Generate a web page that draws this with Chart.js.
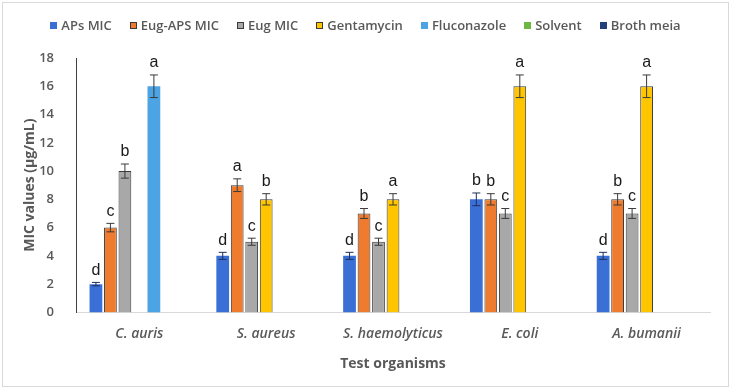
<!DOCTYPE html>
<html>
<head>
<meta charset="utf-8">
<script src="https://cdn.jsdelivr.net/npm/chart.js@4.4.1/dist/chart.umd.min.js"></script>
<style>
  body { margin: 0; background: #fff; }
  #wrap { position: relative; width: 731px; height: 389px; }
  #frame { position: absolute; left: 2px; top: 2px; right: 2px; bottom: 2px; border: 1px solid #d9d9d9; pointer-events: none; }
  #legend { position: absolute; left: 0; right: 0; top: 16px; display: flex; justify-content: center; gap: 18px; font: 600 13px 'Open Sans', sans-serif; color: #595959; }
  #legend span.item { display: flex; align-items: center; gap: 4px; }
  #legend span.box { width: 7px; height: 7px; box-sizing: border-box; display: inline-block; }
</style>
</head>
<body>
<div id="wrap">
  <canvas id="micChart"></canvas>
  <div id="legend"></div>
  <div id="frame"></div>
</div>
<script>
const organisms = ['C. auris', 'S. aureus', 'S. haemolyticus', 'E. coli', 'A. bumanii'];

const seriesNames = ['APs MIC', 'Eug-APS MIC', 'Eug MIC', 'Gentamycin', 'Fluconazole', 'Solvent', 'Broth meia'];
const seriesColors = ['#3a6fd6', '#ee7b2e', '#a8a8a8', '#ffc600', '#4ca4e4', '#6db842', '#23407a'];
const seriesBorders = [null, '#3a3a3a', '#3a3a3a', '#3a3a3a', null, null, null];

// MIC values (µg/mL), one array per series
const apsMic = [2, 4, 4, 8, 4];
const eugApsMic = [6, 9, 7, 8, 8];
const eugMic = [10, 5, 5, 7, 7];
const gentamycin = [null, 8, 8, 16, 16];
const fluconazole = [16, null, null, null, null];
const solvent = [null, null, null, null, null];
const brothMeia = [null, null, null, null, null];

// error bar half-heights
const apsErr = [0.12, 0.25, 0.25, 0.45, 0.25];
const eugApsErr = [0.3, 0.45, 0.35, 0.4, 0.4];
const eugErr = [0.5, 0.25, 0.25, 0.35, 0.35];
const gentErr = [null, 0.4, 0.4, 0.8, 0.8];
const flucErr = [0.8, null, null, null, null];

// significance letters
const apsLetters = ['d', 'd', 'd', 'b', 'd'];
const eugApsLetters = ['c', 'a', 'b', 'b', 'b'];
const eugLetters = ['b', 'c', 'c', 'c', 'c'];
const gentLetters = ['', 'b', 'a', 'a', 'a'];
const flucLetters = ['a', '', '', '', ''];

const values = [apsMic, eugApsMic, eugMic, gentamycin, fluconazole, solvent, brothMeia];
const errors = [apsErr, eugApsErr, eugErr, gentErr, flucErr, [], []];
const letters = [apsLetters, eugApsLetters, eugLetters, gentLetters, flucLetters, [], []];

const datasets = seriesNames.map((name, i) => ({
  label: name,
  data: values[i],
  backgroundColor: seriesColors[i],
  borderColor: seriesBorders[i] || seriesColors[i],
  borderWidth: seriesBorders[i] ? 1 : 0,
  errors: errors[i],
  letters: letters[i],
  categoryPercentage: 0.8,
  barPercentage: 0.88
}));

// html legend
const legendEl = document.getElementById('legend');
seriesNames.forEach((name, i) => {
  const item = document.createElement('span');
  item.className = 'item';
  const box = document.createElement('span');
  box.className = 'box';
  box.style.background = seriesColors[i];
  if (seriesBorders[i]) box.style.border = '1px solid ' + seriesBorders[i];
  item.appendChild(box);
  item.appendChild(document.createTextNode(name));
  legendEl.appendChild(item);
});

// error bars + letters
const errorBars = {
  id: 'errorBars',
  afterDatasetsDraw(chart) {
    const ctx = chart.ctx;
    const y = chart.scales.y;
    chart.data.datasets.forEach((ds, di) => {
      const meta = chart.getDatasetMeta(di);
      meta.data.forEach((bar, j) => {
        const v = ds.data[j];
        const e = ds.errors[j];
        if (v == null) return;
        let topY = y.getPixelForValue(v);
        if (e != null) {
          const hi = y.getPixelForValue(v + e);
          const lo = y.getPixelForValue(v - e);
          ctx.save();
          ctx.strokeStyle = di === 0 ? '#1f2f5a' : '#3a3a3a';
          ctx.lineWidth = 1;
          ctx.beginPath();
          ctx.moveTo(bar.x, hi); ctx.lineTo(bar.x, lo);
          ctx.moveTo(bar.x - 4, hi); ctx.lineTo(bar.x + 4, hi);
          ctx.moveTo(bar.x - 4, lo); ctx.lineTo(bar.x + 4, lo);
          ctx.stroke();
          ctx.restore();
          topY = hi;
        }
        const letter = ds.letters[j];
        if (letter) {
          ctx.save();
          ctx.fillStyle = '#1a1a1a';
          ctx.font = '16px "Liberation Sans", Arial, sans-serif';
          ctx.textAlign = 'center';
          ctx.textBaseline = 'bottom';
          ctx.fillText(letter, bar.x, topY - 4);
          ctx.restore();
        }
      });
    });
  }
};

new Chart(document.getElementById('micChart'), {
  type: 'bar',
  data: { labels: organisms, datasets: datasets },
  options: {
    responsive: true,
    maintainAspectRatio: false,
    animation: false,
    layout: { padding: { top: 58, right: 21, bottom: 13, left: 18 } },
    plugins: {
      legend: { display: false },
      tooltip: { enabled: false }
    },
    scales: {
      x: {
        grid: { display: false },
        border: { color: '#d9d9d9' },
        ticks: {
          color: '#595959',
          padding: 5,
          font: { family: 'Open Sans', size: 14, style: 'italic', weight: '600' }
        },
        title: {
          display: true,
          text: 'Test organisms',
          color: '#595959',
          font: { family: 'Open Sans', size: 14, weight: 'bold' },
          padding: { top: 8 }
        }
      },
      y: {
        min: 0,
        max: 18,
        grid: { display: false },
        border: { color: '#404040' },
        ticks: {
          stepSize: 2,
          color: '#595959',
          padding: 14,
          font: { family: 'Open Sans', size: 13, weight: '600' }
        },
        title: {
          display: true,
          text: 'MIC values (µg/mL)',
          color: '#595959',
          font: { family: 'Open Sans', size: 14, weight: 'bold' }
        },
        afterFit(scale) { scale.width = 58; }
      }
    }
  },
  plugins: [errorBars]
});
</script>
</body>
</html>
